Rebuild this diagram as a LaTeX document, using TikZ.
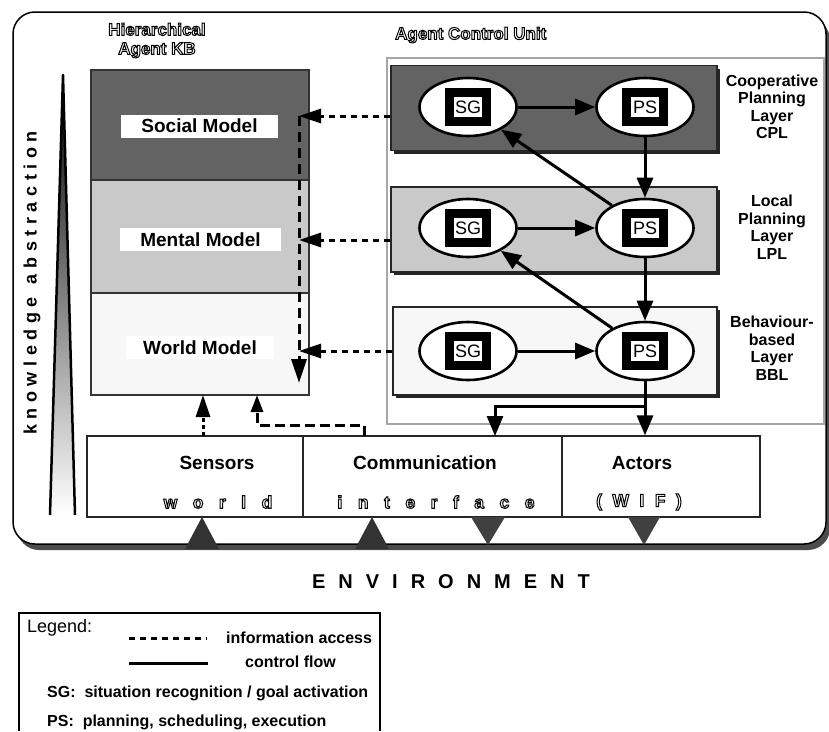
\documentclass[tikz,border=0pt]{standalone}
\usepackage{fontspec}
\setmainfont{Liberation Sans}
\usetikzlibrary{arrows.meta,shapes.geometric,shadows}

\definecolor{darklayer}{gray}{0.39}
\definecolor{midlayer}{gray}{0.79}
\definecolor{lightlayer}{gray}{0.97}

% hollow (outlined) lettering: stroke-only text rendering
\newcommand\hollow[1]{\special{pdf:literal direct 1 Tr 1.0 w}#1\special{pdf:literal direct 0 Tr}}
% letter-spaced text: \spaced{gap}{l e t t e r s}
\newcommand\spaced[2]{\def\spgap{#1}\let\spfmt\relax\sploop#2\relax\unskip}
\newcommand\hollowspaced[2]{\def\spgap{#1}\let\spfmt\hollow\sploop#2\relax\unskip}
\def\sploop#1{\ifx#1\relax\else\spfmt{#1}\hspace{\spgap}\expandafter\sploop\fi}

\tikzset{
  layer/.style={draw=black!85, line width=1.2pt, minimum width=326pt, minimum height=85pt, inner sep=0pt,
    drop shadow={shadow xshift=3pt, shadow yshift=-3pt, fill=black!85, opacity=1}},
  kbpart/.style={draw=black!80, line width=1.2pt, minimum width=218pt, inner sep=0pt},
  modelbox/.style={fill=white, inner xsep=20pt, inner ysep=0pt, minimum height=23pt,
    font=\fontsize{19}{22}\selectfont\bfseries},
  unit/.style={ellipse, draw, line width=2.6pt, fill=white, minimum width=97pt, minimum height=58pt},
  tag/.style={draw, line width=8.5pt, fill=white, minimum width=37pt, minimum height=29pt,
    inner sep=0pt, font=\fontsize{18}{20}\selectfont},
  layername/.style={align=center, font=\fontsize{16}{17.5}\selectfont\bfseries},
  hollowtitle/.style={align=center, inner sep=0pt, font=\fontsize{17}{19}\selectfont\bfseries},
  wif/.style={draw=black!85, line width=1.2pt, minimum height=81pt, inner sep=0pt},
  wiftitle/.style={font=\fontsize{19}{22}\selectfont\bfseries},
  wifsub/.style={inner sep=0pt, font=\fontsize{17.5}{20}\selectfont\bfseries},
  legtext/.style={anchor=west, inner sep=0pt, font=\fontsize{16}{18}\selectfont\bfseries},
  ctrl/.style={line width=3pt, -{Triangle[length=20pt,width=16pt]}},
  info/.style={line width=3pt, dash pattern=on 6pt off 5pt, -{Triangle[length=22pt,width=14pt]}},
}

\begin{document}
\begin{tikzpicture}[x=1pt, y=-1pt]
  \useasboundingbox (0,0) rectangle (829,731);

  % === Outer frame ===
  \node[draw, line width=1.5pt, rounded corners=22pt, fill=white, minimum width=813pt,
        minimum height=532pt, inner sep=0pt,
        drop shadow={shadow xshift=4pt, shadow yshift=-6pt, fill=black!70, opacity=1}]
        (frame) at (419.5,278) {};

  % === Abstraction wedge ===
  \shade[top color=black, middle color=black!40, bottom color=white]
      (50,515) -- (63,75) -- (75,515) -- cycle;
  \draw[line width=2.5pt, line join=round] (50,515) -- (63,75) -- (75,515);
  \node[rotate=90, font=\fontsize{18}{20}\selectfont\bfseries] (abstr) at (32,283)
      {\spaced{5.6pt}{k n o w l e d g e}\hspace{13pt}\spaced{5.6pt}{a b s t r a c t i o n}};

  % === Knowledge base ===
  \node[hollowtitle] (kbTitle) at (157,40.5) {\hollow{Hierarchical}\\\hollow{Agent KB}};
  \node[kbpart, fill=darklayer,  minimum height=110pt] (social) at (200,125) {};
  \node[kbpart, fill=midlayer,   minimum height=113pt] (mental) at (200,236.5) {};
  \node[kbpart, fill=lightlayer, minimum height=102pt] (world)  at (200,344) {};
  \node[modelbox] (socialLbl) at (199.5,126)   {Social Model};
  \node[modelbox] (mentalLbl) at (200.5,239.5) {Mental Model};
  \node[modelbox, inner xsep=17pt] (worldLbl) at (200,347.5) {World Model};

  % === Agent control unit ===
  \node[hollowtitle, anchor=west] (acuTitle) at (395,35) {\hollow{Agent Control Unit}};
  \node[draw=black!35, line width=1.5pt, minimum width=437pt, minimum height=366pt,
        inner sep=0pt] (acu) at (605.5,241) {};

  \node[layer, fill=darklayer] (cpl) at (554,108) {};
  \node[layer, fill=midlayer]  (lpl) at (554,229.5) {};
  \node[layer, fill=lightlayer, minimum width=324pt, minimum height=88pt] (bbl) at (555,351) {};

  \node[layername] (cplName) at (772,107) {Cooperative\\Planning\\Layer\\CPL};
  \node[layername] (lplName) at (772,227) {Local\\Planning\\Layer\\LPL};
  \node[layername] (bblName) at (772,348) {Behaviour-\\based\\Layer\\BBL};

  % SG / PS units in each layer
  \node[unit] (cplSG) at (468,107) {};
  \node[tag] (cplSGtag) at (cplSG) {SG};
  \node[unit] (cplPS) at (645,107) {};
  \node[tag] (cplPStag) at (cplPS) {PS};
  \node[unit] (lplSG) at (468,228) {};
  \node[tag] (lplSGtag) at (lplSG) {SG};
  \node[unit] (lplPS) at (645,228) {};
  \node[tag] (lplPStag) at (lplPS) {PS};
  \node[unit] (bblSG) at (468,351) {};
  \node[tag] (bblSGtag) at (bblSG) {SG};
  \node[unit] (bblPS) at (645,351) {};
  \node[tag] (bblPStag) at (bblPS) {PS};

  % === World interface ===
  \node[wif, minimum width=216pt] (sensors) at (195,476.5) {};
  \node[wif, minimum width=259pt] (comm)    at (432.5,476.5) {};
  \node[wif, minimum width=198pt] (actors)  at (661,476.5) {};
  \node[wiftitle] (sensTitle)   at (217,463) {Sensors};
  \node[wiftitle] (commTitle)   at (425,463) {Communication};
  \node[wiftitle] (actorsTitle) at (642,463) {Actors};
  \node[wifsub] (wifWord1) at (218,502) {\hollowspaced{15.5pt}{w o r l d}};
  \node[wifsub] (wifWord2) at (436,502) {\hollowspaced{15.5pt}{i n t e r f a c e}};
  \node[wifsub] (wifWord3) at (639,502) {\hollowspaced{10.5pt}{( W I F )}};

  % === Control flow ===
  \draw[ctrl] (cplSG) -- (cplPS);
  \draw[ctrl] (lplSG) -- (lplPS);
  \draw[ctrl] (bblSG) -- (bblPS);
  \draw[ctrl] (cplPS) -- (lplPS);
  \draw[ctrl] (lplPS) -- (bblPS);
  \draw[ctrl] (lplPS) -- (cplSG);
  \draw[ctrl] (bblPS) -- (lplSG);
  \coordinate (split)  at (645,406);
  \coordinate (commIn) at (495,436);
  \draw[ctrl] (bblPS) -- (split) -- (split |- actors.north);
  \draw[ctrl] (split) -| (commIn);

  % === Information access ===
  \coordinate (socIn)   at (299,116);
  \coordinate (mentIn)  at (299,240);
  \coordinate (worldIn) at (299,351);
  \coordinate (kbDown)  at (299,383);
  \draw[info] (cpl.west |- socIn)   -- (socIn);
  \draw[info] (lpl.west |- mentIn)  -- (mentIn);
  \draw[info] (bbl.west |- worldIn) -- (worldIn);
  \draw[info, dash pattern=on 10pt off 6pt, -{Triangle[length=24pt,width=15pt]}] (socIn) -- (kbDown);

  \coordinate (sensOut) at (203,436);
  \coordinate (sensIn)  at (203,395);
  \coordinate (commOut) at (364,436);
  \coordinate (kbIn)    at (257,395);
  \draw[info, dash pattern=on 4pt off 3pt] (sensOut) -- (sensIn);
  \draw[info, dash pattern=on 10pt off 5pt, -{Triangle[length=17pt,width=12pt]}]
      (commOut) -- ++(0,-11) -| (kbIn);

  % === Environment couplings ===
  \fill[black!80] (185,549) -- (202,517) -- (219,549) -- cycle;
  \fill[black!80] (355,549) -- (372,517) -- (389,549) -- cycle;
  \fill[black!75] (471,517) -- (488,545) -- (505,517) -- cycle;
  \fill[black!75] (628,517) -- (644,545) -- (660,517) -- cycle;

  \node[font=\fontsize{20}{22}\selectfont\bfseries] (env) at (451,582)
      {\spaced{13pt}{E N V I R O N M E N T}};

  % === Legend ===
  \draw[line width=1.2pt] (19,731) -- (19,613) -- (380,613) -- (380,731);
  \node[anchor=west, inner sep=0pt, font=\fontsize{18}{20}\selectfont] (legTitle) at (27,628) {Legend:};
  \draw[line width=3pt, dash pattern=on 6pt off 5pt] (129,638) -- (207,638);
  \node[legtext] (legInfo) at (226,638) {information access};
  \draw[line width=3pt] (129,663) -- (208,663);
  \node[legtext] (legCtrl) at (245,662) {control flow};
  \node[legtext] (legSG) at (47,693) {SG:~ situation recognition / goal activation};
  \node[legtext] (legPS) at (47,722) {PS:~ planning, scheduling, execution};

\end{tikzpicture}
\end{document}
